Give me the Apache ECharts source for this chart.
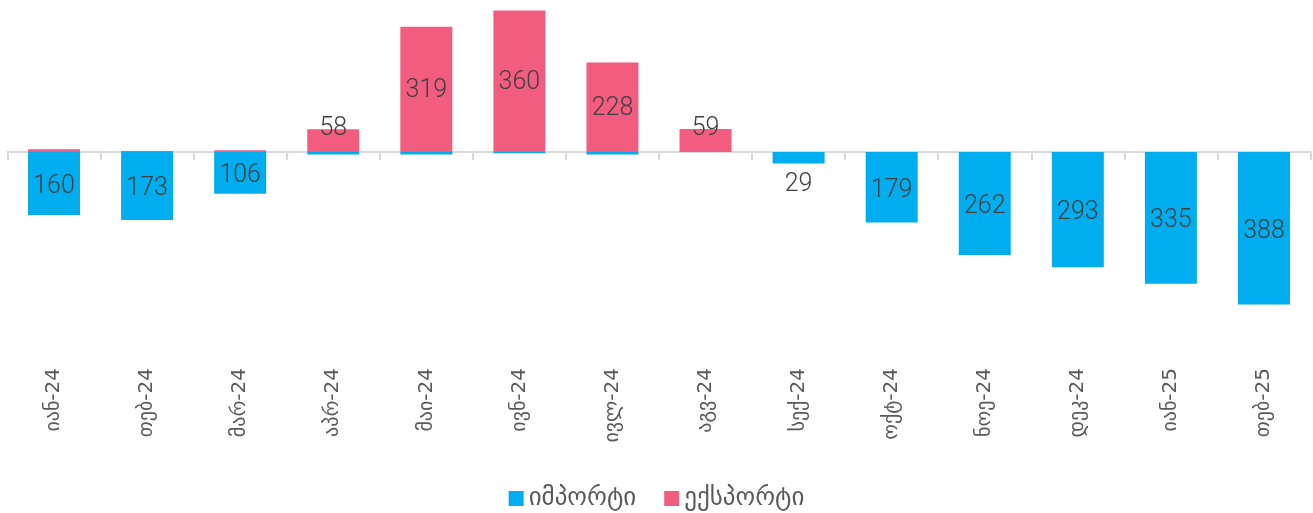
<!DOCTYPE html>
<html>
<head>
<meta charset="utf-8">
<script src="https://cdn.jsdelivr.net/npm/echarts@6/dist/echarts.min.js"></script>
<style>
  html, body { margin: 0; padding: 0; background: #fff; }
  #chart { width: 1313px; height: 513px; }
</style>
</head>
<body>
<div id="chart"></div>
<script>
const months = ['იან-24', 'თებ-24', 'მარ-24', 'აპრ-24', 'მაი-24', 'ივნ-24', 'ივლ-24',
  'აგვ-24', 'სექ-24', 'ოქტ-24', 'ნოე-24', 'დეკ-24', 'იან-25', 'თებ-25']
const importVals = [160, 173, 106, 6, 6, 3, 6, 0, 29, 179, 262, 293, 335, 388]
const exportVals = [7, 3, 5, 58, 319, 360, 228, 59, 0, 0, 0, 0, 0, 0]
const legendNames = ['იმპორტი', 'ექსპორტი']

const labelFont = 'Roboto, "DejaVu Sans", sans-serif'

// small bars get the label outside, tiny ones get none
function importItem (v) {
  if (v === 0) return '-'
  const item = { value: -v }
  if (v < 20) {
    item.label = { show: false }
  } else if (v < 60) {
    item.label = { position: 'bottom', distance: 9, offset: [0, 0] }
  }
  return item
}
function exportItem (v) {
  if (v === 0) return '-'
  const item = { value: v }
  if (v < 20) {
    item.label = { show: false }
  } else if (v < 80) {
    item.label = { position: 'top', distance: -11 }
  }
  return item
}

const chart = echarts.init(document.getElementById('chart'))
chart.setOption({
  backgroundColor: '#ffffff',
  animation: false,
  grid: { left: 7.5, right: 2.5, top: 0, height: 360, containLabel: false },
  legend: {
    data: legendNames,
    bottom: -3,
    left: 'center',
    itemWidth: 15,
    itemHeight: 15,
    itemGap: 28,
    icon: 'rect',
    textStyle: { color: '#595959', fontSize: 25, fontFamily: '"DejaVu Sans", sans-serif' }
  },
  xAxis: [
    {
      type: 'category',
      data: months,
      position: 'bottom',
      axisLine: { show: false, onZero: false },
      axisTick: { show: false },
      axisLabel: {
        rotate: 90,
        margin: 8,
        color: '#595959',
        fontSize: 20,
        fontFamily: '"DejaVu Sans", sans-serif'
      }
    },
    {
      type: 'category',
      data: months,
      position: 'bottom',
      axisLine: { show: true, onZero: true, lineStyle: { color: '#d9d9d9', width: 2 } },
      axisTick: { show: true, length: 8, lineStyle: { color: '#d9d9d9', width: 2 } },
      axisLabel: { show: false }
    }
  ],
  yAxis: {
    type: 'value',
    min: -529,
    max: 387,
    show: false,
    splitLine: { show: false }
  },
  series: [
    {
      name: legendNames[0],
      type: 'bar',
      stack: 'total',
      xAxisIndex: 1,
      barWidth: 52,
      data: importVals.map(importItem),
      itemStyle: { color: '#00AEEF' },
      label: {
        show: true,
        position: 'inside',
        offset: [0, 3],
        color: '#404040',
        fontSize: 25,
        fontWeight: 300,
        fontFamily: labelFont,
        formatter: p => Math.abs(p.value)
      },
      z: 3
    },
    {
      name: legendNames[1],
      type: 'bar',
      stack: 'total',
      xAxisIndex: 1,
      barWidth: 52,
      data: exportVals.map(exportItem),
      itemStyle: { color: '#F15C7F' },
      label: {
        show: true,
        position: 'inside',
        offset: [0, 1],
        color: '#404040',
        fontSize: 25,
        fontWeight: 300,
        fontFamily: labelFont
      },
      z: 3
    }
  ]
})
</script>
</body>
</html>
